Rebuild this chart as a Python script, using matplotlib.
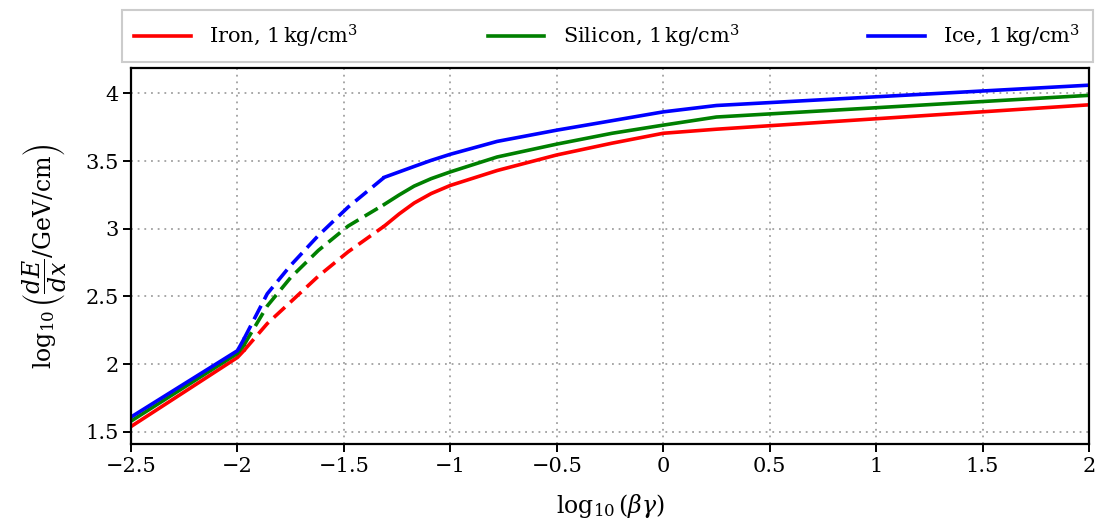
import matplotlib
matplotlib.use("Agg")
import matplotlib.pyplot as plt

plt.rcParams["font.family"] = ["DejaVu Serif"]
plt.rcParams["mathtext.fontset"] = "dejavuserif"

materials = ["Iron", "Silicon", "Ice"]
colors = ["red", "green", "blue"]

# low energy segment (solid)
x_low = [-2.5, -2.0, -1.97]
y_low = {
    "Iron":    [1.54, 2.05, 2.10],
    "Silicon": [1.58, 2.08, 2.14],
    "Ice":     [1.61, 2.10, 2.185],
}

# intermediate segment (dashed)
x_mid = [-1.97, -1.86, -1.75, -1.62, -1.48, -1.31]
y_mid = {
    "Iron":    [2.10, 2.30, 2.46, 2.65, 2.83, 3.02],
    "Silicon": [2.14, 2.43, 2.64, 2.84, 3.02, 3.18],
    "Ice":     [2.185, 2.52, 2.73, 2.95, 3.16, 3.38],
}

# high energy segment (solid)
x_high = [-1.31, -1.24, -1.17, -1.09, -1.0, -0.78, -0.5, -0.24, 0.0, 0.25, 2.0]
y_high = {
    "Iron":    [3.02, 3.11, 3.19, 3.26, 3.32, 3.43, 3.545, 3.632, 3.705, 3.735, 3.915],
    "Silicon": [3.18, 3.25, 3.315, 3.37, 3.42, 3.53, 3.625, 3.705, 3.765, 3.825, 3.985],
    "Ice":     [3.38, 3.42, 3.46, 3.505, 3.55, 3.645, 3.728, 3.798, 3.863, 3.91, 4.06],
}

fig = plt.figure(figsize=(10.98, 5.25), dpi=100)
ax = fig.add_axes([0.1193, 0.154, 0.8725, 0.716])

for name, c in zip(materials, colors):
    ax.plot(x_low, y_low[name], color=c, lw=2.6,
            label=name + r", $1\,\mathrm{kg/cm^3}$")
    ax.plot(x_mid, y_mid[name], color=c, lw=2.6, linestyle=(0, (4.2, 2.0)))
    ax.plot(x_high, y_high[name], color=c, lw=2.6)

ax.set_xlim(-2.5, 2)
ax.set_ylim(1.41, 4.185)
ax.set_xticks([-2.5, -2, -1.5, -1, -0.5, 0, 0.5, 1, 1.5, 2])
ax.set_xticklabels(["\u22122.5", "\u22122", "\u22121.5", "\u22121", "\u22120.5",
                    "0", "0.5", "1", "1.5", "2"])
ax.set_yticks([1.5, 2, 2.5, 3, 3.5, 4])
ax.set_yticklabels(["1.5", "2", "2.5", "3", "3.5", "4"])
ax.grid(True, linestyle=(0, (1, 2.7)), color="#a0a0a0", lw=1.3)
ax.tick_params(labelsize=15, width=1.4, length=5.5)
for s in ax.spines.values():
    s.set_linewidth(1.6)

ax.set_xlabel(r"$\log_{10}\left(\beta\gamma\right)$", fontsize=17, labelpad=12)
ax.set_ylabel(r"$\log_{10}\left(\dfrac{dE}{dx}/\mathrm{GeV/cm}\right)$",
              fontsize=17, labelpad=12)

leg = ax.legend(loc="lower left", bbox_to_anchor=(-0.0094, 1.016, 1.0136, 0.133),
                mode="expand", ncol=3, fontsize=15, fancybox=False,
                edgecolor="#cccccc", framealpha=1, handlelength=2.7,
                handletextpad=0.9, borderaxespad=0, borderpad=0.6)
leg.get_frame().set_linewidth(1.5)

fig.savefig("out.png", dpi=100)
